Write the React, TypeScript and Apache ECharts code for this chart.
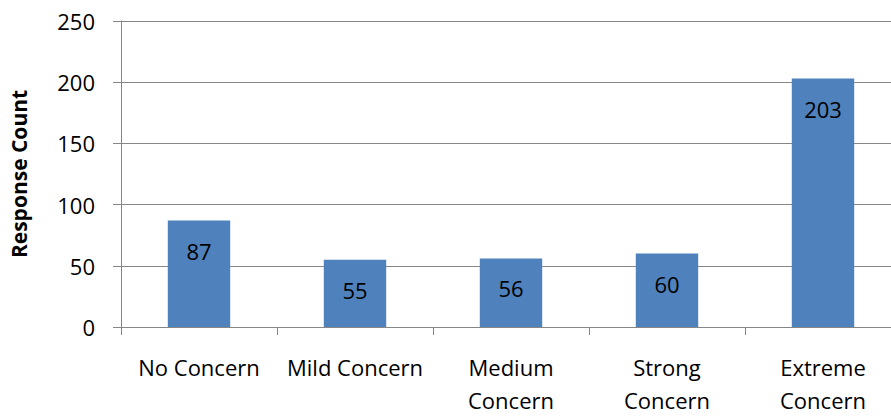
import React, { useEffect, useRef } from "react";
import * as echarts from "echarts";

const categories = ["No Concern", "Mild Concern", "Medium Concern", "Strong Concern", "Extreme Concern"];
const categoryLabels = ["No Concern", "Mild Concern", "Medium\nConcern", "Strong\nConcern", "Extreme\nConcern"];
const responseCounts = [87, 55, 56, 60, 203];
const yTicks = { min: 0, max: 250, interval: 50 };

export default function App() {
  const ref = useRef<HTMLDivElement>(null);
  useEffect(() => {
    document.body.style.margin = "0";
    document.body.style.overflow = "hidden";
    const chart = echarts.init(ref.current!, null, { renderer: "svg" });
    const font = "'Open Sans', sans-serif";
    chart.setOption({
      animation: false,
      grid: { left: 121, right: 0, top: 21, bottom: 89, containLabel: false },
      xAxis: {
        type: "category",
        data: categories,
        axisLine: { lineStyle: { color: "#868686", width: 1 } },
        axisTick: { show: true, length: 8, lineStyle: { color: "#868686" } },
        axisLabel: {
          color: "#000",
          fontFamily: font,
          fontSize: 22,
          lineHeight: 33,
          margin: 23,
          interval: 0,
          formatter: (v: string) => categoryLabels[categories.indexOf(v)],
        },
      },
      yAxis: {
        type: "value",
        min: yTicks.min,
        max: yTicks.max,
        interval: yTicks.interval,
        name: "Response Count",
        nameLocation: "middle",
        nameGap: 92,
        nameTextStyle: { color: "#000", fontFamily: font, fontSize: 21, fontWeight: "bold" },
        axisLine: { show: true, lineStyle: { color: "#868686", width: 1 } },
        axisTick: { show: true, length: 8, lineStyle: { color: "#868686" } },
        axisLabel: { color: "#000", fontFamily: font, fontSize: 22, margin: 26 },
        splitLine: { show: true, lineStyle: { color: "#868686", width: 1 } },
      },
      series: [
        {
          type: "bar",
          data: responseCounts,
          barWidth: "40%",
          itemStyle: { color: "#4F81BD" },
          label: {
            show: true,
            position: "insideTop",
            distance: 15,
            color: "#000",
            fontFamily: font,
            fontSize: 22,
            lineHeight: 30,
          },
        },
      ],
    });
    return () => chart.dispose();
  }, []);
  return (
    <div style={{ width: 891, height: 416, overflow: "hidden", position: "relative" }}>
      <div ref={ref} style={{ width: 901, height: 416 }} />
    </div>
  );
}
